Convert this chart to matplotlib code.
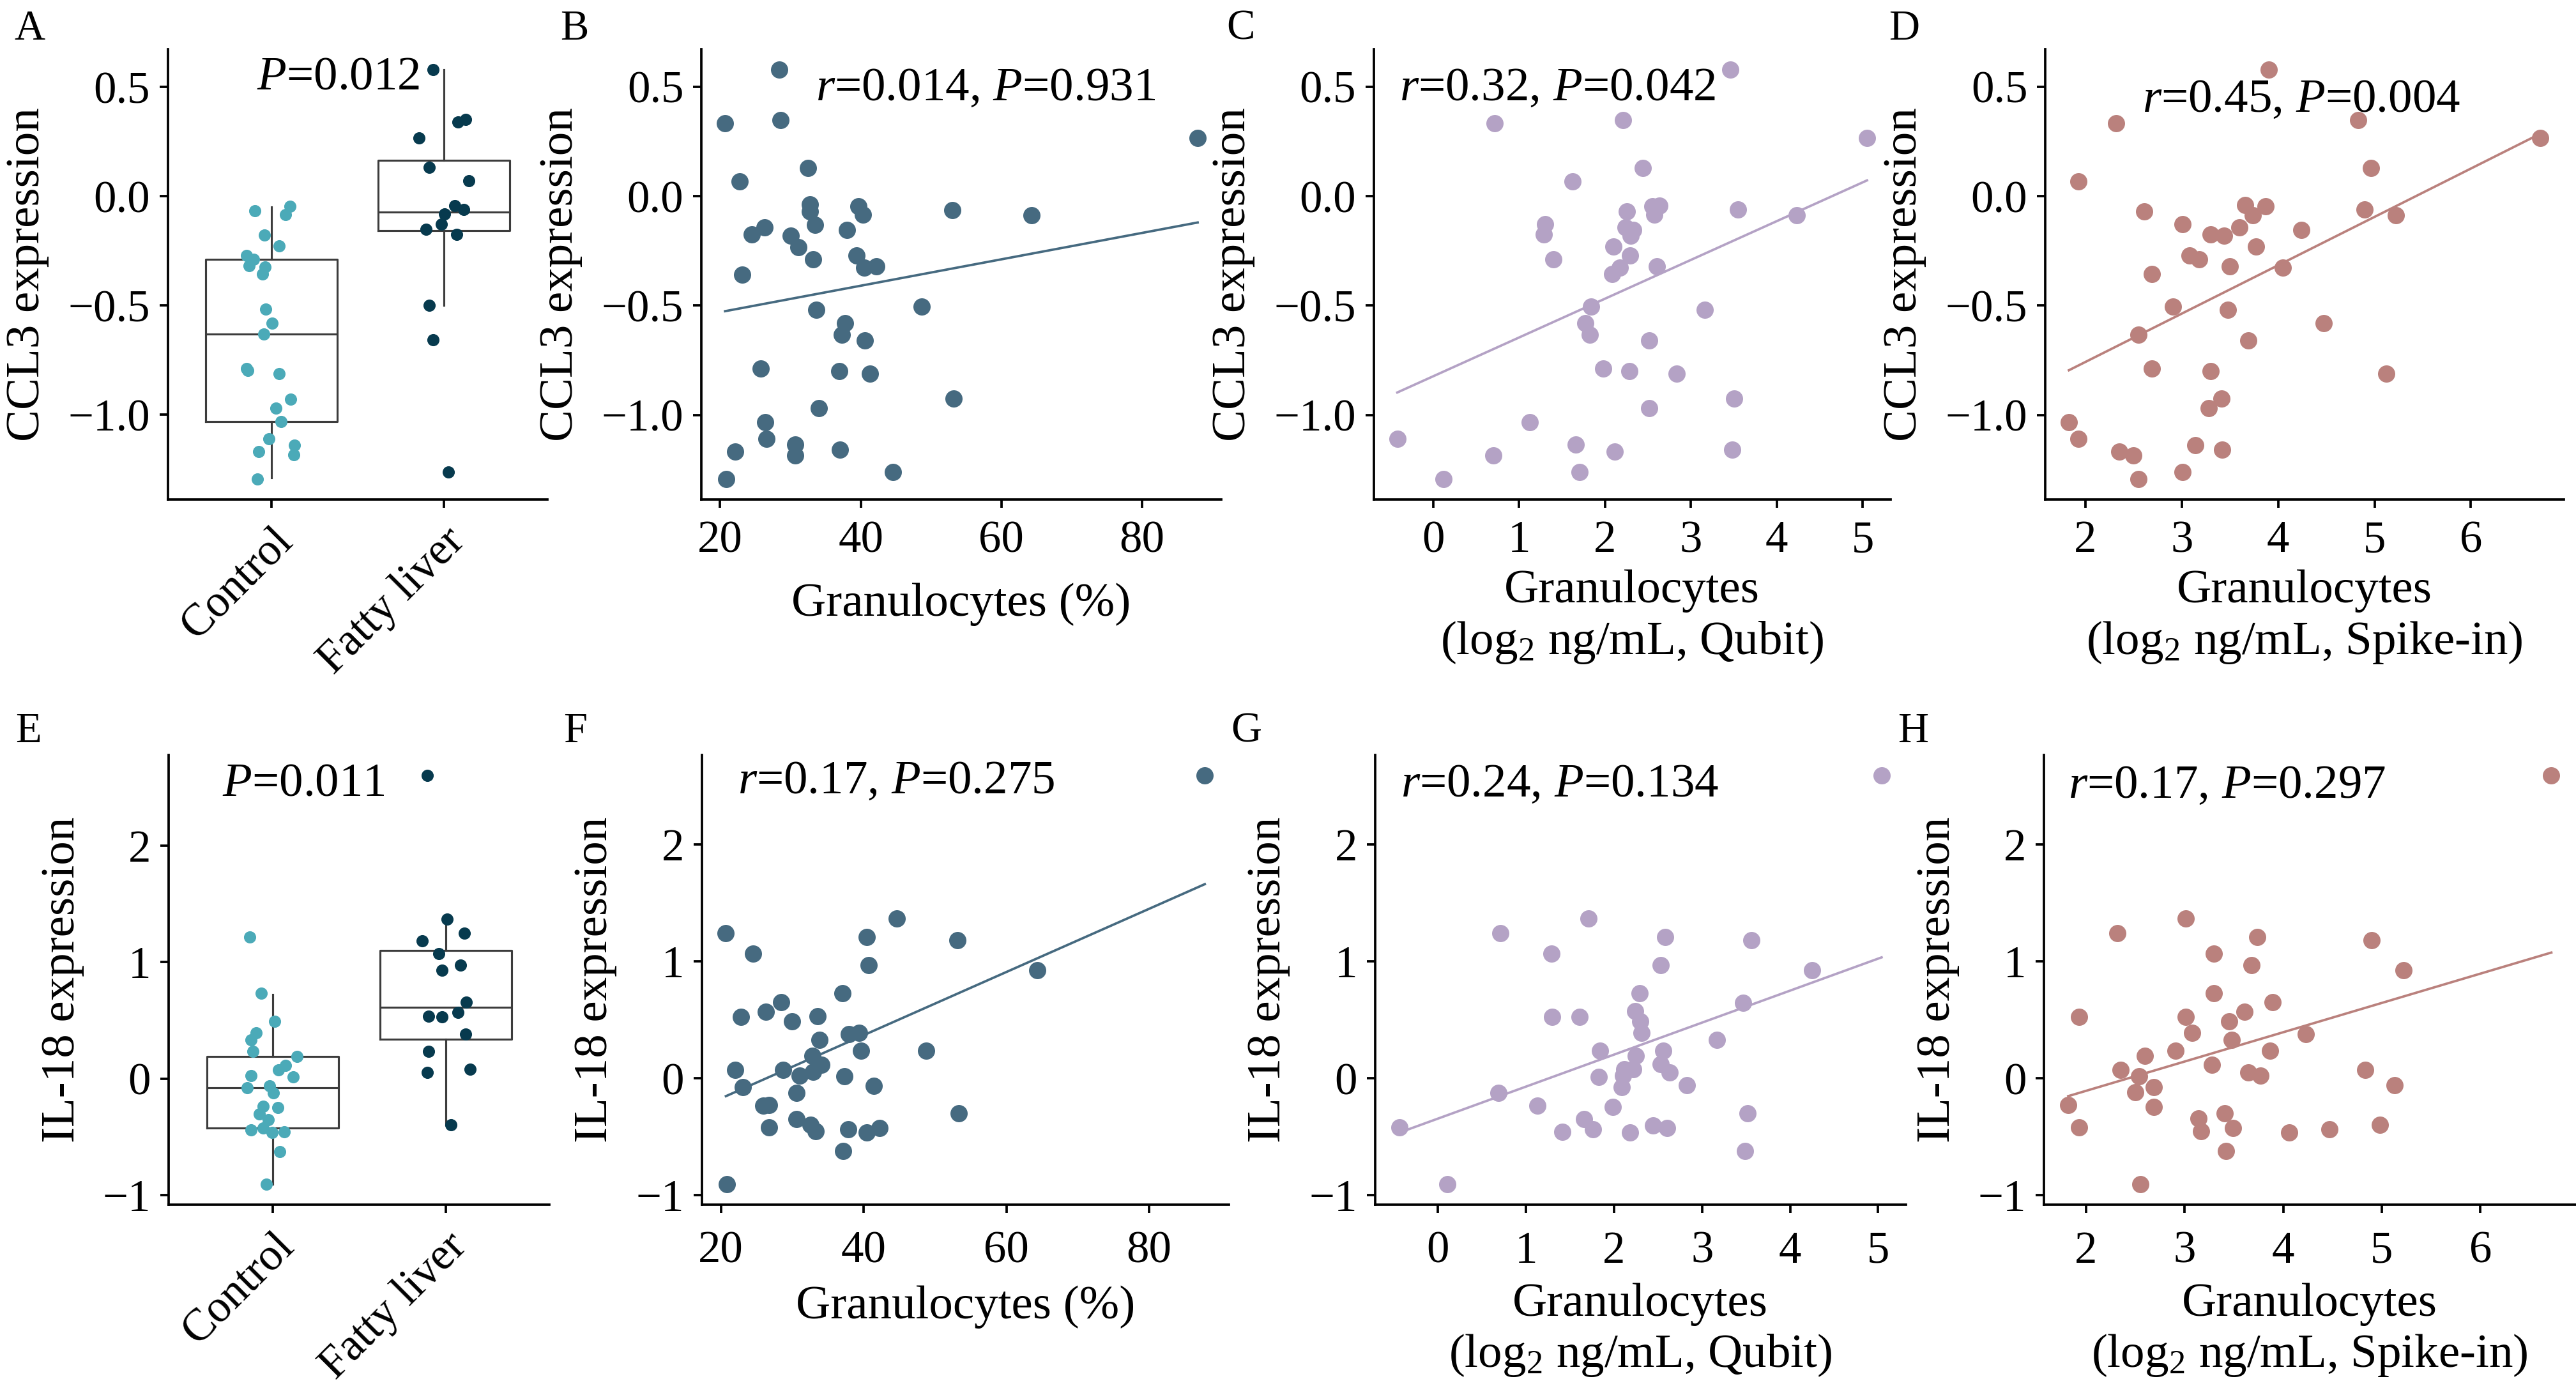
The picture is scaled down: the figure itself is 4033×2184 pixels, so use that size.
import numpy as np
import matplotlib.pyplot as plt
from matplotlib.ticker import MultipleLocator

plt.rcParams['font.family'] = ['Liberation Serif', 'DejaVu Serif']
plt.rcParams['mathtext.fontset'] = 'custom'
plt.rcParams['mathtext.rm'] = 'Liberation Serif'
plt.rcParams['mathtext.it'] = 'Liberation Serif:italic'
plt.rcParams['axes.linewidth'] = 0.9
plt.rcParams['xtick.major.width'] = 0.9
plt.rcParams['ytick.major.width'] = 0.9
plt.rcParams['xtick.major.size'] = 3.2
plt.rcParams['ytick.major.size'] = 3.2
plt.rcParams['xtick.labelsize'] = 17
plt.rcParams['ytick.labelsize'] = 17
plt.rcParams['axes.labelsize'] = 18

groups = ['Control', 'Fatty liver']

# ---------------- box plot data (A: CCL3, E: IL-18) ----------------
ccl3_control = [-0.068, -0.045, -0.084, -0.178, -0.229, -0.272, -0.290, -0.319,
                -0.325, -0.356, -0.517, -0.581, -0.630, -0.789, -0.798, -0.812,
                -0.928, -0.971, -1.033, -1.112, -1.170, -1.139, -1.184, -1.295]
ccl3_control_jit = [-0.098, 0.106, 0.082, -0.040, 0.046, -0.144, -0.104, -0.130,
                    -0.038, -0.052, -0.032, 0.002, -0.046, -0.144, -0.138, 0.046,
                    0.112, 0.026, 0.054, -0.016, -0.074, 0.134, 0.128, -0.082]
ccl3_fatty = [0.579, 0.341, 0.350, 0.268, 0.131, 0.070, -0.043, -0.061,
              -0.082, -0.151, -0.129, -0.174, -0.500, -0.657, -1.264]
ccl3_fatty_jit = [-0.064, 0.080, 0.126, -0.144, -0.084, 0.146, 0.062, 0.116,
                  0.004, -0.102, -0.014, 0.074, -0.084, -0.064, 0.026]
ccl3_q1 = [-1.033, -0.158]
ccl3_med = [-0.632, -0.072]
ccl3_q3 = [-0.290, 0.164]
ccl3_whislo = [-1.290, -0.500]
ccl3_whishi = [-0.049, 0.579]

il18_control = [1.217, 0.734, 0.494, 0.395, 0.335, 0.236, 0.190, 0.114,
                0.076, 0.015, 0.027, -0.080, -0.061, -0.122, -0.236, -0.247,
                -0.304, -0.354, -0.441, -0.426, -0.464, -0.456, -0.627, -0.909]
il18_control_jit = [-0.133, -0.067, 0.012, -0.095, -0.123, -0.115, 0.141, 0.073,
                    0.036, 0.119, -0.125, -0.147, -0.018, 0.004, -0.055, 0.030,
                    -0.077, -0.024, -0.123, -0.053, -0.004, 0.069, 0.040, -0.036]
il18_fatty = [2.605, 1.369, 1.186, 1.251, 1.076, 0.973, 0.932, 0.654,
              0.536, 0.532, 0.570, 0.380, 0.232, 0.053, 0.080, -0.399]
il18_fatty_jit = [-0.107, 0.008, -0.135, 0.109, -0.040, 0.085, -0.020, 0.119,
                  -0.099, -0.020, 0.073, 0.117, -0.099, -0.105, 0.141, 0.030]
il18_q1 = [-0.426, 0.338]
il18_med = [-0.080, 0.612]
il18_q3 = [0.190, 1.099]
il18_whislo = [-0.909, -0.400]
il18_whishi = [0.722, 1.369]

# ---------------- scatter data ----------------
gran_pct_B = [20.7, 28.4, 28.6, 87.9, 32.5, 22.8, 32.8, 32.8, 33.5, 39.7, 40.3,
              53.0, 64.3, 26.3, 24.5, 30.0, 31.1, 38.0, 33.2, 39.4, 40.5, 42.2,
              23.1, 33.7, 37.8, 37.3, 48.7, 40.6, 25.8, 36.9, 41.3, 53.2, 34.0,
              26.4, 26.6, 30.7, 30.7, 22.1, 37.0, 44.6, 20.9]
ccl3_B = [0.332, 0.578, 0.348, 0.266, 0.129, 0.068, -0.039, -0.070, -0.131,
          -0.045, -0.084, -0.063, -0.086, -0.143, -0.176, -0.180, -0.232, -0.154,
          -0.289, -0.271, -0.328, -0.320, -0.359, -0.518, -0.582, -0.633, -0.504,
          -0.658, -0.787, -0.799, -0.811, -0.926, -0.969, -1.033, -1.109, -1.135,
          -1.184, -1.168, -1.160, -1.262, -1.293]

qubit_C = [3.46, 0.71, 2.21, 5.05, 2.44, 1.62, 3.55, 4.23, 2.25, 2.55, 2.63,
           2.57, 1.30, 1.29, 2.24, 2.33, 2.30, 2.10, 1.40, 2.29, 2.17, 2.08,
           2.60, 1.84, 3.16, 1.77, 1.82, 2.51, 1.98, 2.28, 2.83, 3.50, 2.51,
           1.12, -0.42, 1.66, 0.70, 2.11, 3.48, 1.70, 0.12]
ccl3_C = [0.578, 0.332, 0.348, 0.266, 0.129, 0.068, -0.061, -0.086, -0.070,
          -0.045, -0.043, -0.084, -0.129, -0.176, -0.143, -0.154, -0.182, -0.230,
          -0.289, -0.271, -0.328, -0.357, -0.320, -0.504, -0.518, -0.582, -0.633,
          -0.658, -0.787, -0.799, -0.811, -0.926, -0.969, -1.033, -1.109, -1.135,
          -1.184, -1.168, -1.160, -1.262, -1.293]

spike_D = [3.90, 2.32, 4.83, 6.72, 4.96, 1.93, 2.61, 3.66, 3.87, 3.74, 4.90,
           5.22, 3.01, 3.30, 3.44, 3.60, 4.24, 3.77, 3.08, 3.18, 3.50, 4.05,
           2.69, 2.91, 3.48, 2.55, 4.47, 3.69, 2.69, 3.30, 5.12, 3.41, 3.28,
           1.83, 1.93, 3.14, 2.35, 2.50, 3.42, 3.01, 2.55]
ccl3_D = [0.578, 0.332, 0.348, 0.266, 0.129, 0.068, -0.070, -0.041, -0.047,
          -0.086, -0.061, -0.086, -0.129, -0.176, -0.182, -0.143, -0.154, -0.230,
          -0.271, -0.289, -0.320, -0.326, -0.357, -0.504, -0.518, -0.633, -0.582,
          -0.658, -0.787, -0.799, -0.811, -0.926, -0.969, -1.033, -1.109, -1.137,
          -1.168, -1.184, -1.160, -1.262, -1.293]

gran_pct_F = [87.8, 20.7, 24.5, 40.4, 44.6, 53.1, 40.7, 64.3, 37.0, 28.4, 22.8,
              26.3, 30.0, 33.5, 33.8, 37.9, 39.4, 39.6, 48.8, 32.8, 34.1, 22.0,
              28.7, 31.0, 32.9, 37.3, 41.4, 23.1, 30.6, 25.9, 26.7, 30.6, 32.6,
              33.3, 26.7, 37.8, 40.4, 42.2, 53.3, 37.1, 20.8]
il18_F = [2.592, 1.245, 1.068, 1.208, 1.366, 1.181, 0.970, 0.928, 0.728, 0.653,
          0.528, 0.570, 0.491, 0.532, 0.328, 0.381, 0.389, 0.238, 0.238, 0.192,
          0.117, 0.075, 0.075, 0.026, 0.057, 0.019, -0.064, -0.075, -0.121, -0.234,
          -0.230, -0.347, -0.396, -0.453, -0.419, -0.434, -0.464, -0.426, -0.298,
          -0.623, -0.906]

qubit_G = [5.04, 0.71, 1.71, 1.29, 2.58, 3.56, 2.53, 4.25, 2.29, 1.30, 1.61,
           2.24, 2.30, 2.31, 3.47, 3.17, 1.84, 2.56, 2.25, 2.53, 2.12, 2.22,
           2.10, 1.83, 2.63, 2.09, 2.83, 0.69, 1.13, 1.99, 1.66, 3.52, -0.44,
           1.41, 1.76, 2.18, 2.44, 2.60, 3.49, 0.11]
il18_G = [2.592, 1.245, 1.366, 1.068, 1.208, 1.181, 0.970, 0.928, 0.728, 0.528,
          0.528, 0.574, 0.491, 0.389, 0.649, 0.332, 0.238, 0.238, 0.192, 0.121,
          0.079, 0.079, 0.026, 0.015, 0.053, -0.075, -0.060, -0.121, -0.234, -0.242,
          -0.347, -0.298, -0.419, -0.457, -0.434, -0.464, -0.404, -0.426, -0.623,
          -0.906]

spike_H = [6.72, 3.01, 2.32, 3.74, 4.90, 3.30, 3.68, 5.22, 3.30, 3.89, 3.61,
           1.93, 3.01, 3.45, 3.08, 4.23, 3.48, 2.91, 3.87, 2.60, 3.28, 2.35,
           4.83, 2.54, 3.65, 3.77, 2.69, 5.13, 2.50, 1.82, 2.69, 3.14, 3.41,
           3.17, 3.49, 1.93, 4.06, 4.47, 4.98, 3.42, 2.55]
il18_H = [2.592, 1.366, 1.245, 1.208, 1.181, 1.068, 0.970, 0.928, 0.728, 0.653,
          0.570, 0.528, 0.528, 0.491, 0.392, 0.381, 0.328, 0.238, 0.238, 0.192,
          0.117, 0.075, 0.075, 0.019, 0.053, 0.026, -0.075, -0.060, -0.117, -0.230,
          -0.242, -0.343, -0.298, -0.453, -0.423, -0.419, -0.460, -0.434, -0.396,
          -0.623, -0.906]

stats_text = {
    'A': r'$\mathit{P}$=0.012',
    'B': r'$\mathit{r}$=0.014, $\mathit{P}$=0.931',
    'C': r'$\mathit{r}$=0.32, $\mathit{P}$=0.042',
    'D': r'$\mathit{r}$=0.45, $\mathit{P}$=0.004',
    'E': r'$\mathit{P}$=0.011',
    'F': r'$\mathit{r}$=0.17, $\mathit{P}$=0.275',
    'G': r'$\mathit{r}$=0.24, $\mathit{P}$=0.134',
    'H': r'$\mathit{r}$=0.17, $\mathit{P}$=0.297',
}

xlab_pct = 'Granulocytes (%)'
xlab_qubit = 'Granulocytes\n(log$_2$ ng/mL, Qubit)'
xlab_spike = 'Granulocytes\n(log$_2$ ng/mL, Spike-in)'

c_control = '#4BAAB8'
c_fatty = '#073A4E'
c_pct = '#466A80'
c_qubit = '#B4A2C5'
c_spike = '#BA817D'
c_box = '#3C3C3C'

fig = plt.figure(figsize=(4033 / 300, 2184 / 300), dpi=300)

# axes rectangles (fig fraction)
top_b, top_h = 0.6419, 0.3228
bot_b, bot_h = 0.1364, 0.3223
pos = {
    'A': [0.0652, top_b, 0.1473, top_h],
    'B': [0.2723, top_b, 0.2018, top_h],
    'C': [0.5333, top_b, 0.2006, top_h],
    'D': [0.7940, top_b, 0.2013, top_h],
    'E': [0.0655, bot_b, 0.1478, bot_h],
    'F': [0.2725, bot_b, 0.2045, bot_h],
    'G': [0.5338, bot_b, 0.2060, bot_h],
    'H': [0.7935, bot_b, 0.2063, bot_h],
}
text_pos = {'A': (0.234, 0.912), 'B': (0.22, 0.887), 'C': (0.05, 0.887),
            'D': (0.187, 0.861), 'E': (0.14, 0.91), 'F': (0.068, 0.915),
            'G': (0.048, 0.908), 'H': (0.045, 0.905)}
letter_pos = {'A': (22, 62), 'B': (877, 62), 'C': (1920, 62), 'D': (2957, 62),
              'E': (24, 1162), 'F': (882, 1162), 'G': (1927, 1162), 'H': (2971, 1162)}


def style(ax, xpad):
    for s in ['top', 'right']:
        ax.spines[s].set_visible(False)
    ax.tick_params(direction='out')
    ax.tick_params(axis='y', pad=3.5)
    ax.tick_params(axis='x', pad=xpad)


def box_panel(ax, ctrl, ctrl_jit, fat, fat_jit, q1, med, q3, lo, hi, ylabel, key):
    stats = []
    for i in range(2):
        stats.append(dict(q1=q1[i], med=med[i], q3=q3[i], whislo=lo[i],
                          whishi=hi[i], fliers=[]))
    lp = dict(color=c_box, linewidth=0.75)
    ax.bxp(stats, positions=[0, 1], widths=0.76, showcaps=False,
           boxprops=lp, whiskerprops=lp, medianprops=lp, manage_ticks=False)
    ax.scatter(np.array(ctrl_jit), ctrl, s=21, color=c_control, linewidths=0, zorder=3)
    ax.scatter(1 + np.array(fat_jit), fat, s=21, color=c_fatty, linewidths=0, zorder=3)
    ax.set_xlim(-0.6, 1.6)
    ax.set_xticks([0, 1])
    ax.set_xticklabels(groups, rotation=45, ha='right', rotation_mode='anchor')
    ax.set_ylabel(ylabel, labelpad=7)
    style(ax, 4.5)
    ax.text(*text_pos[key], stats_text[key], transform=ax.transAxes,
            fontsize=18, va='baseline', ha='left')


def scatter_panel(ax, x, y, color, xlabel, ylabel, key, xstep, labelpad, xpad):
    x = np.array(x)
    y = np.array(y)
    ax.scatter(x, y, s=42, color=color, linewidths=0, zorder=3)
    k, b = np.polyfit(x, y, 1)
    xl = np.array([x.min(), x.max()])
    ax.plot(xl, k * xl + b, color=color, linewidth=0.9, zorder=2)
    ax.xaxis.set_major_locator(MultipleLocator(xstep))
    ax.set_xlabel(xlabel, labelpad=labelpad)
    ax.set_ylabel(ylabel, labelpad=7)
    style(ax, xpad)
    ax.text(*text_pos[key], stats_text[key], transform=ax.transAxes,
            fontsize=18, va='baseline', ha='left')


axs = {k: fig.add_axes(v) for k, v in pos.items()}

box_panel(axs['A'], ccl3_control, ccl3_control_jit, ccl3_fatty, ccl3_fatty_jit,
          ccl3_q1, ccl3_med, ccl3_q3, ccl3_whislo, ccl3_whishi, 'CCL3 expression', 'A')
axs['A'].yaxis.set_major_locator(MultipleLocator(0.5))
box_panel(axs['E'], il18_control, il18_control_jit, il18_fatty, il18_fatty_jit,
          il18_q1, il18_med, il18_q3, il18_whislo, il18_whishi, 'IL-18 expression', 'E')
axs['E'].yaxis.set_major_locator(MultipleLocator(1))

scatter_panel(axs['B'], gran_pct_B, ccl3_B, c_pct, xlab_pct, 'CCL3 expression', 'B', 20, 8, 4.5)
scatter_panel(axs['C'], qubit_C, ccl3_C, c_qubit, xlab_qubit, 'CCL3 expression', 'C', 1, 3, 4.5)
scatter_panel(axs['D'], spike_D, ccl3_D, c_spike, xlab_spike, 'CCL3 expression', 'D', 1, 3, 4.5)
scatter_panel(axs['F'], gran_pct_F, il18_F, c_pct, xlab_pct, 'IL-18 expression', 'F', 20, 5, 6.5)
scatter_panel(axs['G'], qubit_G, il18_G, c_qubit, xlab_qubit, 'IL-18 expression', 'G', 1, 4, 6.5)
scatter_panel(axs['H'], spike_H, il18_H, c_spike, xlab_spike, 'IL-18 expression', 'H', 1, 4, 6.5)
for k in 'BCD':
    axs[k].yaxis.set_major_locator(MultipleLocator(0.5))
for k in 'FGH':
    axs[k].yaxis.set_major_locator(MultipleLocator(1))

for k, (px, py) in letter_pos.items():
    fig.text(px / 4033, 1 - py / 2184, k, fontsize=16, va='baseline', ha='left')

fig.savefig('out.png', dpi=300)
